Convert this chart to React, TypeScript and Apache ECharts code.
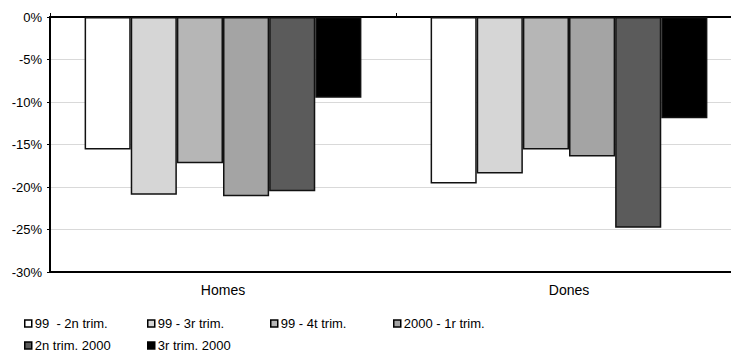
import React, { useEffect, useRef } from "react";
import * as echarts from "echarts";

const categories = ["Homes", "Dones"];
const seriesNames = ["99  - 2n trim.", "99 - 3r trim.", "99 - 4t trim.", "2000 - 1r trim.", "2n trim. 2000", "3r trim. 2000"];
const s1 = [-15.6, -19.6];
const s2 = [-20.9, -18.4];
const s3 = [-17.2, -15.6];
const s4 = [-21.1, -16.4];
const s5 = [-20.5, -24.8];
const s6 = [-9.5, -11.9];
const seriesValues = [s1, s2, s3, s4, s5, s6];
const colors = ["#ffffff", "#d6d6d6", "#b6b6b6", "#a4a4a4", "#5b5b5b", "#000000"];
const yTicks = [-30, -25, -20, -15, -10, -5, 0];

const FONT = "'Liberation Sans', Arial, sans-serif";

export default function App() {
  const ref = useRef<HTMLDivElement>(null);
  useEffect(() => {
    if (!ref.current) return;
    const chart = echarts.init(ref.current, undefined, { renderer: "svg" });
    const legendPos = [
      { left: 24, top: 317 },
      { left: 147, top: 317 },
      { left: 270, top: 317 },
      { left: 393, top: 317 },
      { left: 24, top: 339 },
      { left: 147, top: 339 },
    ];
    chart.setOption({
      animation: false,
      backgroundColor: "#ffffff",
      textStyle: { fontFamily: FONT },
      grid: { left: 50, top: 17, right: 0, bottom: 81, containLabel: false },
      legend: seriesNames.map((n, i) => ({
        data: [n],
        left: legendPos[i].left,
        top: legendPos[i].top,
        padding: 0,
        itemWidth: 7,
        itemHeight: 7,
        itemGap: 0,
        icon: "rect",
        itemStyle: { borderColor: "#000", borderWidth: 1.5 },
        textStyle: { fontFamily: FONT, fontSize: 13, lineHeight: 12, color: "#000", padding: [0, 0, 0, -2] },
        selectedMode: false,
      })),
      xAxis: [
        {
          type: "category",
          data: categories,
          position: "bottom",
          axisLine: { onZero: false, lineStyle: { color: "#000", width: 2 } },
          axisTick: { show: false },
          axisLabel: { fontFamily: FONT, fontSize: 14, color: "#000", margin: 11 },
        },
        {
          type: "category",
          data: categories,
          position: "top",
          axisLine: { onZero: false, lineStyle: { color: "#000", width: 2 } },
          axisTick: { show: true, length: 4, lineStyle: { color: "#000" } },
          axisLabel: { show: false },
        },
      ],
      yAxis: {
        type: "value",
        min: yTicks[0],
        max: yTicks[yTicks.length - 1],
        interval: 5,
        axisLine: { show: true, lineStyle: { color: "#000", width: 2 } },
        axisTick: { show: true, length: 3, lineStyle: { color: "#000" } },
        axisLabel: { formatter: (v: number) => `${v}%`, fontFamily: FONT, fontSize: 13, color: "#000", margin: 8 },
        splitLine: { show: true, lineStyle: { color: "#d9d9d9", width: 1 } },
      },
      series: seriesValues.map((vals, i) => ({
        name: seriesNames[i],
        type: "bar",
        data: vals,
        barGap: "0%",
        barCategoryGap: "20%",
        itemStyle: { color: colors[i], borderColor: "#111", borderWidth: 1.5 },
      })),
    });
    return () => chart.dispose();
  }, []);
  return (
    <div style={{ position: "absolute", left: 0, top: 0, width: 731, height: 353, overflow: "hidden" }}>
      <div ref={ref} style={{ width: 742, height: 353 }} />
    </div>
  );
}
